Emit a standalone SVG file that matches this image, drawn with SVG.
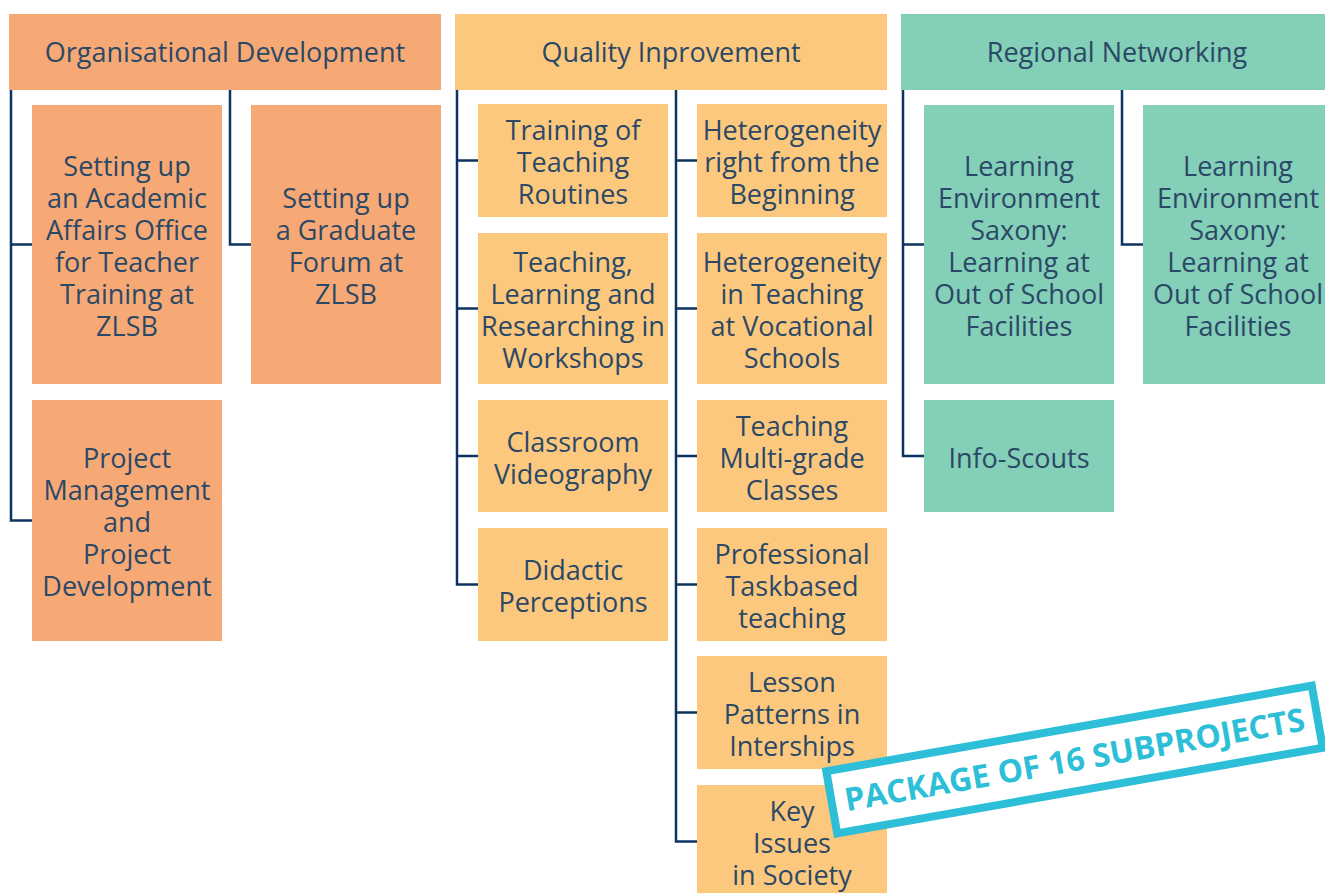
<svg xmlns="http://www.w3.org/2000/svg" width="1325" height="893" viewBox="0 0 1325 893">
<style>
text{font-family:"Open Sans","Noto Sans","Liberation Sans",sans-serif;font-size:27px;fill:#2B4866;text-anchor:middle}
.o{fill:#F6A975}.y{fill:#FCC87D}.g{fill:#83CFB7}
.c{fill:none;stroke:#0D3461;stroke-width:2.5}
.st{fill:#fff;stroke:#2DBFD8;stroke-width:8}
.stt{font-weight:bold;font-size:32px;fill:#2DBFD8}
</style>
<rect width="1325" height="893" fill="#fff"/>
<g id="connectors">
<path class="c" d="M11,90V520.5H32M11,244.5H32"/>
<path class="c" d="M230,90V244.5H251"/>
<path class="c" d="M457,90V584.5H478M457,160.5H478M457,308.5H478M457,456H478"/>
<path class="c" d="M676,90V841.5H697M676,160.5H697M676,308.5H697M676,456H697M676,584.5H697M676,712.5H697"/>
<path class="c" d="M903,90V456H924M903,244.5H924"/>
<path class="c" d="M1122,90V244.5H1143"/>
</g>
<g id="h-org"><rect class="o" x="9" y="14" width="432" height="76"/><text x="225" y="62">Organisational Development</text></g>
<g id="h-qual"><rect class="y" x="455" y="14" width="432" height="76"/><text x="671" y="62">Quality Inprovement</text></g>
<g id="h-reg"><rect class="g" x="901" y="14" width="432" height="76"/><text x="1117" y="62">Regional Networking</text></g>
<g id="n-academic"><rect class="o" x="32" y="105" width="190" height="279"/><text x="127" y="176"><tspan x="127">Setting up</tspan><tspan x="127" dy="32">an Academic</tspan><tspan x="127" dy="32">Affairs Office</tspan><tspan x="127" dy="32">for Teacher</tspan><tspan x="127" dy="32">Training at</tspan><tspan x="127" dy="32">ZLSB</tspan></text></g>
<g id="n-graduate"><rect class="o" x="251" y="105" width="190" height="279"/><text x="346" y="208"><tspan x="346">Setting up</tspan><tspan x="346" dy="32">a Graduate</tspan><tspan x="346" dy="32">Forum at</tspan><tspan x="346" dy="32">ZLSB</tspan></text></g>
<g id="n-pm"><rect class="o" x="32" y="400" width="190" height="241"/><text x="127" y="468"><tspan x="127">Project</tspan><tspan x="127" dy="32">Management</tspan><tspan x="127" dy="32">and</tspan><tspan x="127" dy="32">Project</tspan><tspan x="127" dy="32">Development</tspan></text></g>
<g id="n-training"><rect class="y" x="478" y="104" width="190" height="113"/><text x="573" y="140"><tspan x="573">Training of</tspan><tspan x="573" dy="32">Teaching</tspan><tspan x="573" dy="32">Routines</tspan></text></g>
<g id="n-workshops"><rect class="y" x="478" y="233" width="190" height="151"/><text x="573" y="272"><tspan x="573">Teaching,</tspan><tspan x="573" dy="32">Learning and</tspan><tspan x="573" dy="32">Researching in</tspan><tspan x="573" dy="32">Workshops</tspan></text></g>
<g id="n-video"><rect class="y" x="478" y="400" width="190" height="112"/><text x="573" y="451.5"><tspan x="573">Classroom</tspan><tspan x="573" dy="32">Videography</tspan></text></g>
<g id="n-didactic"><rect class="y" x="478" y="528" width="190" height="113"/><text x="573" y="580"><tspan x="573">Didactic</tspan><tspan x="573" dy="32">Perceptions</tspan></text></g>
<g id="n-het1"><rect class="y" x="697" y="104" width="190" height="113"/><text x="792" y="140"><tspan x="792">Heterogeneity</tspan><tspan x="792" dy="32">right from the</tspan><tspan x="792" dy="32">Beginning</tspan></text></g>
<g id="n-het2"><rect class="y" x="697" y="233" width="190" height="151"/><text x="792" y="272"><tspan x="792">Heterogeneity</tspan><tspan x="792" dy="32">in Teaching</tspan><tspan x="792" dy="32">at Vocational</tspan><tspan x="792" dy="32">Schools</tspan></text></g>
<g id="n-multigrade"><rect class="y" x="697" y="400" width="190" height="112"/><text x="792" y="435.5"><tspan x="792">Teaching</tspan><tspan x="792" dy="32">Multi-grade</tspan><tspan x="792" dy="32">Classes</tspan></text></g>
<g id="n-taskbased"><rect class="y" x="697" y="528" width="190" height="113"/><text x="792" y="564"><tspan x="792">Professional</tspan><tspan x="792" dy="32">Taskbased</tspan><tspan x="792" dy="32">teaching</tspan></text></g>
<g id="n-lesson"><rect class="y" x="697" y="656" width="190" height="113"/><text x="792" y="692"><tspan x="792">Lesson</tspan><tspan x="792" dy="32">Patterns in</tspan><tspan x="792" dy="32">Interships</tspan></text></g>
<g id="n-key"><rect class="y" x="697" y="785" width="190" height="113"/><text x="792" y="821"><tspan x="792">Key</tspan><tspan x="792" dy="32">Issues</tspan><tspan x="792" dy="32">in Society</tspan></text></g>
<g id="n-les1"><rect class="g" x="924" y="105" width="190" height="279"/><text x="1019" y="176"><tspan x="1019">Learning</tspan><tspan x="1019" dy="32">Environment</tspan><tspan x="1019" dy="32">Saxony:</tspan><tspan x="1019" dy="32">Learning at</tspan><tspan x="1019" dy="32">Out of School</tspan><tspan x="1019" dy="32">Facilities</tspan></text></g>
<g id="n-les2"><rect class="g" x="1143" y="105" width="190" height="279"/><text x="1238" y="176"><tspan x="1238">Learning</tspan><tspan x="1238" dy="32">Environment</tspan><tspan x="1238" dy="32">Saxony:</tspan><tspan x="1238" dy="32">Learning at</tspan><tspan x="1238" dy="32">Out of School</tspan><tspan x="1238" dy="32">Facilities</tspan></text></g>
<g id="n-info"><rect class="g" x="924" y="400" width="190" height="112"/><text x="1019" y="467.5">Info-Scouts</text></g>
<g id="stamp" transform="translate(1074.5,759.5) rotate(-10)">
<rect class="st" x="-246.5" y="-31.5" width="493" height="63"/>
<text class="stt" x="0" y="11.5">PACKAGE OF 16 SUBPROJECTS</text>
</g>
</svg>
